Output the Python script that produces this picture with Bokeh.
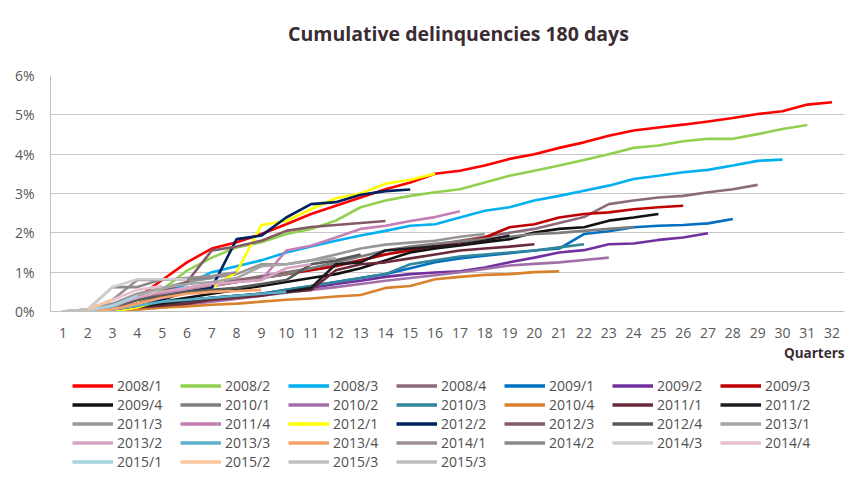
from bokeh.plotting import figure
from bokeh.layouts import column
from bokeh.models import (FixedTicker, PrintfTickFormatter, Legend,
                          LegendItem, Range1d, Title, Label)
from bokeh.embed import file_html
from bokeh.resources import INLINE

# ---------------- data (cumulative delinquency %, by quarter since origination)
quarters = list(range(1, 33))
y_ticks = [0, 1, 2, 3, 4, 5, 6]

c2008_1 = [0, 0.02, 0.08, 0.35, 0.8, 1.25, 1.6, 1.76, 1.97, 2.22, 2.48, 2.69, 2.9, 3.11, 3.28, 3.5,
           3.58, 3.71, 3.88, 4.0, 4.16, 4.3, 4.47, 4.6, 4.68, 4.75, 4.83, 4.92, 5.02, 5.09, 5.26, 5.32]
c2008_2 = [0, 0.02, 0.05, 0.2, 0.55, 1.04, 1.37, 1.63, 1.76, 1.97, 2.1, 2.31, 2.65, 2.82, 2.94, 3.03,
           3.11, 3.28, 3.45, 3.58, 3.71, 3.85, 4.0, 4.16, 4.22, 4.33, 4.39, 4.39, 4.51, 4.64, 4.74]
c2008_3 = [0, 0, 0.05, 0.15, 0.45, 0.7, 1.0, 1.15, 1.3, 1.5, 1.65, 1.8, 1.93, 2.05, 2.18, 2.22,
           2.39, 2.56, 2.65, 2.82, 2.94, 3.07, 3.2, 3.37, 3.45, 3.54, 3.6, 3.71, 3.83, 3.86]
c2008_4 = [0, 0.02, 0.1, 0.3, 0.45, 0.6, 0.7, 0.8, 0.9, 1.0, 1.1, 1.2, 1.3, 1.45, 1.6, 1.7,
           1.8, 1.9, 2.0, 2.1, 2.25, 2.4, 2.73, 2.82, 2.9, 2.94, 3.03, 3.11, 3.22]
c2009_1 = [0, 0, 0.02, 0.1, 0.2, 0.3, 0.35, 0.4, 0.45, 0.55, 0.65, 0.75, 0.85, 0.95, 1.1, 1.25,
           1.35, 1.42, 1.48, 1.55, 1.6, 1.97, 2.04, 2.14, 2.18, 2.2, 2.24, 2.35]
c2009_2 = [0, 0, 0.02, 0.08, 0.15, 0.25, 0.3, 0.38, 0.45, 0.52, 0.6, 0.7, 0.78, 0.88, 0.95, 0.99,
           1.02, 1.12, 1.25, 1.37, 1.5, 1.56, 1.71, 1.73, 1.82, 1.88, 1.99]
c2009_3 = [0, 0, 0.05, 0.2, 0.35, 0.5, 0.65, 0.75, 0.85, 0.95, 1.05, 1.15, 1.3, 1.45, 1.55, 1.67,
           1.76, 1.88, 2.14, 2.22, 2.39, 2.48, 2.52, 2.6, 2.65, 2.69]
c2009_4 = [0, 0, 0.05, 0.15, 0.25, 0.35, 0.45, 0.55, 0.65, 0.75, 0.85, 0.95, 1.1, 1.3, 1.5, 1.6,
           1.68, 1.76, 1.84, 2.01, 2.1, 2.14, 2.31, 2.39, 2.48]
c2010_1 = [0, 0.02, 0.1, 0.3, 0.45, 0.55, 0.65, 0.75, 0.85, 0.95, 1.1, 1.25, 1.4, 1.55, 1.65, 1.72,
           1.78, 1.85, 1.9, 1.97, 2.0, 2.05, 2.1, 2.15]
c2010_2 = [0, 0, 0.02, 0.05, 0.1, 0.18, 0.25, 0.32, 0.4, 0.48, 0.55, 0.62, 0.7, 0.78, 0.85, 0.92,
           1.0, 1.08, 1.17, 1.21, 1.25, 1.31, 1.37]
c2010_3 = [0, 0, 0.02, 0.08, 0.15, 0.22, 0.3, 0.38, 0.45, 0.55, 0.65, 0.75, 0.85, 0.95, 1.2, 1.3,
           1.4, 1.45, 1.5, 1.55, 1.63, 1.71]
c2010_4 = [0, 0, 0.02, 0.05, 0.1, 0.13, 0.17, 0.2, 0.25, 0.3, 0.33, 0.38, 0.42, 0.6, 0.65, 0.82,
           0.88, 0.93, 0.95, 1.0, 1.02]
c2011_1 = [0, 0, 0.05, 0.1, 0.15, 0.2, 0.3, 0.35, 0.4, 0.5, 0.55, 1.05, 1.2, 1.25, 1.35, 1.45,
           1.55, 1.6, 1.65, 1.71]
c2011_2 = [0, 0, 0.05, 0.12, 0.2, 0.28, 0.35, 0.4, 0.45, 0.5, 0.6, 1.2, 1.25, 1.55, 1.6, 1.65,
           1.7, 1.8, 1.93]
c2011_3 = [0, 0.05, 0.2, 0.45, 0.6, 0.75, 0.85, 0.95, 1.2, 1.2, 1.3, 1.45, 1.6, 1.7, 1.75, 1.8,
           1.9, 1.97]
c2011_4 = [0, 0.02, 0.1, 0.3, 0.45, 0.55, 0.65, 0.75, 0.8, 1.55, 1.67, 1.88, 2.1, 2.18, 2.3, 2.4,
           2.55]
c2012_1 = [0, 0, 0, 0.1, 0.3, 0.5, 0.6, 1.0, 2.2, 2.3, 2.6, 2.88, 3.0, 3.25, 3.35, 3.5]
c2012_2 = [0, 0, 0.05, 0.15, 0.3, 0.5, 0.6, 1.84, 1.93, 2.39, 2.73, 2.78, 2.97, 3.06, 3.1]
c2012_3 = [0, 0.02, 0.1, 0.3, 0.5, 0.75, 1.55, 1.65, 1.8, 2.05, 2.15, 2.2, 2.25, 2.3]
c2012_4 = [0, 0.02, 0.1, 0.3, 0.4, 0.5, 0.55, 0.6, 0.7, 0.8, 1.2, 1.3, 1.45]
c2013_1 = [0, 0.02, 0.1, 0.4, 0.6, 0.7, 0.75, 0.85, 1.15, 1.2, 1.3, 1.35]
c2013_2 = [0, 0.02, 0.15, 0.35, 0.5, 0.6, 0.7, 0.75, 0.8, 1.1, 1.2]
c2013_3 = [0, 0, 0.05, 0.15, 0.25, 0.3, 0.35, 0.4, 0.45, 0.5]
c2013_4 = [0, 0, 0.05, 0.2, 0.35, 0.45, 0.5, 0.52, 0.55]
c2014_1 = [0, 0.05, 0.3, 0.8, 0.8, 0.85, 0.9, 1.0]
c2014_2 = [0, 0.05, 0.62, 0.62, 0.82, 0.82, 0.85]
c2014_3 = [0, 0.05, 0.62, 0.82, 0.82, 0.82]
c2014_4 = [0, 0.05, 0.3, 0.55, 0.65]
c2015_1 = [0, 0.02, 0.15, 0.4]
c2015_2 = [0, 0.05, 0.3]
c2015_3a = [0, 0.05]
c2015_3b = [0]

labels = ["2008/1", "2008/2", "2008/3", "2008/4", "2009/1", "2009/2", "2009/3",
          "2009/4", "2010/1", "2010/2", "2010/3", "2010/4", "2011/1", "2011/2",
          "2011/3", "2011/4", "2012/1", "2012/2", "2012/3", "2012/4", "2013/1",
          "2013/2", "2013/3", "2013/4", "2014/1", "2014/2", "2014/3", "2014/4",
          "2015/1", "2015/2", "2015/3", "2015/3"]
series = [c2008_1, c2008_2, c2008_3, c2008_4, c2009_1, c2009_2, c2009_3,
          c2009_4, c2010_1, c2010_2, c2010_3, c2010_4, c2011_1, c2011_2,
          c2011_3, c2011_4, c2012_1, c2012_2, c2012_3, c2012_4, c2013_1,
          c2013_2, c2013_3, c2013_4, c2014_1, c2014_2, c2014_3, c2014_4,
          c2015_1, c2015_2, c2015_3a, c2015_3b]
colors = ["#ff0000", "#92d050", "#00b0f0", "#8b6b7b", "#0070c0", "#7030a0", "#c00000",
          "#111111", "#7f7f7f", "#a26fa6", "#31859c", "#d9822b", "#6b2a3a", "#1f1a1f",
          "#9a9595", "#c47fb5", "#ffff00", "#002060", "#835a66", "#5a5a5a", "#a6a6a6",
          "#d7a4c4", "#5ab0c8", "#f5a36a", "#9c8f92", "#8a8a8a", "#cfcfcf", "#e6c0cf",
          "#a5d3e0", "#fac79f", "#c0c0c0", "#bdbdbd"]

FONT = "Open Sans"
TXT = "#595959"
DARK = "#3b2b33"
LW = 2.6


def blank(height):
    f = figure(width=851, height=height, x_range=Range1d(-3, -2), y_range=Range1d(-3, -2),
               output_backend="svg", toolbar_location=None,
               x_axis_location=None, y_axis_location=None,
               min_border_left=0, min_border_right=0, min_border_top=0, min_border_bottom=0,
               background_fill_color="white", border_fill_color="white")
    f.grid.visible = False
    f.outline_line_color = None
    return f


# ---------------- title strip
pt = blank(52)
pt.add_layout(Label(x=408, y=19, x_units="screen", y_units="screen",
                    text="Cumulative delinquencies 180 days", text_font=FONT,
                    text_font_style="bold", text_font_size="19.5px", text_color=DARK,
                    text_align="center", text_baseline="middle"))

# ---------------- main chart
p = figure(width=851, height=318, x_range=Range1d(0.5, 32.5), y_range=Range1d(0, 6),
           output_backend="svg", toolbar_location=None,
           min_border_left=50, min_border_right=7, min_border_top=23, min_border_bottom=59,
           background_fill_color="white", border_fill_color="white")
p.outline_line_color = None

p.xaxis.ticker = FixedTicker(ticks=quarters)
p.yaxis.ticker = FixedTicker(ticks=y_ticks)
p.yaxis.formatter = PrintfTickFormatter(format="%d%%")
for ax in (p.xaxis, p.yaxis):
    ax.major_tick_line_color = None
    ax.minor_tick_line_color = None
    ax.axis_line_color = "#bfbfbf"
    ax.major_label_text_font = FONT
    ax.major_label_text_font_size = "14px"
    ax.major_label_text_color = TXT
p.xaxis.major_label_standoff = 10
p.yaxis.major_label_standoff = 10
p.xgrid.visible = False
p.ygrid.ticker = FixedTicker(ticks=y_ticks)
p.ygrid.grid_line_color = "#c8c8c8"

for vals, col in zip(series, colors):
    p.line(quarters[:len(vals)], vals, line_color=col, line_width=LW)

p.add_layout(Title(text="Quarters", align="right", text_font=FONT,
                   text_font_style="bold", text_font_size="13.5px",
                   text_color=DARK, standoff=3), "below")

# ---------------- legend strip: same series drawn outside its visible ranges,
# only their legend swatches show
pl = blank(113)
items = []
for lab, vals, col in zip(labels, series, colors):
    r = pl.line(quarters[:len(vals)], vals, line_color=col, line_width=3.6)
    items.append(LegendItem(label=lab, renderers=[r]))

legend = Legend(items=items, orientation="horizontal", ncols=7,
                location=(22, 12), glyph_width=41, glyph_height=19,
                label_standoff=4, label_width=63, label_height=19, spacing=0,
                padding=0, margin=0, border_line_color=None,
                background_fill_alpha=0,
                label_text_font=FONT, label_text_font_size="14px",
                label_text_color="#505050")
pl.add_layout(legend, "center")

open("out.html", "w").write(file_html(column(pt, p, pl, spacing=0), INLINE))
